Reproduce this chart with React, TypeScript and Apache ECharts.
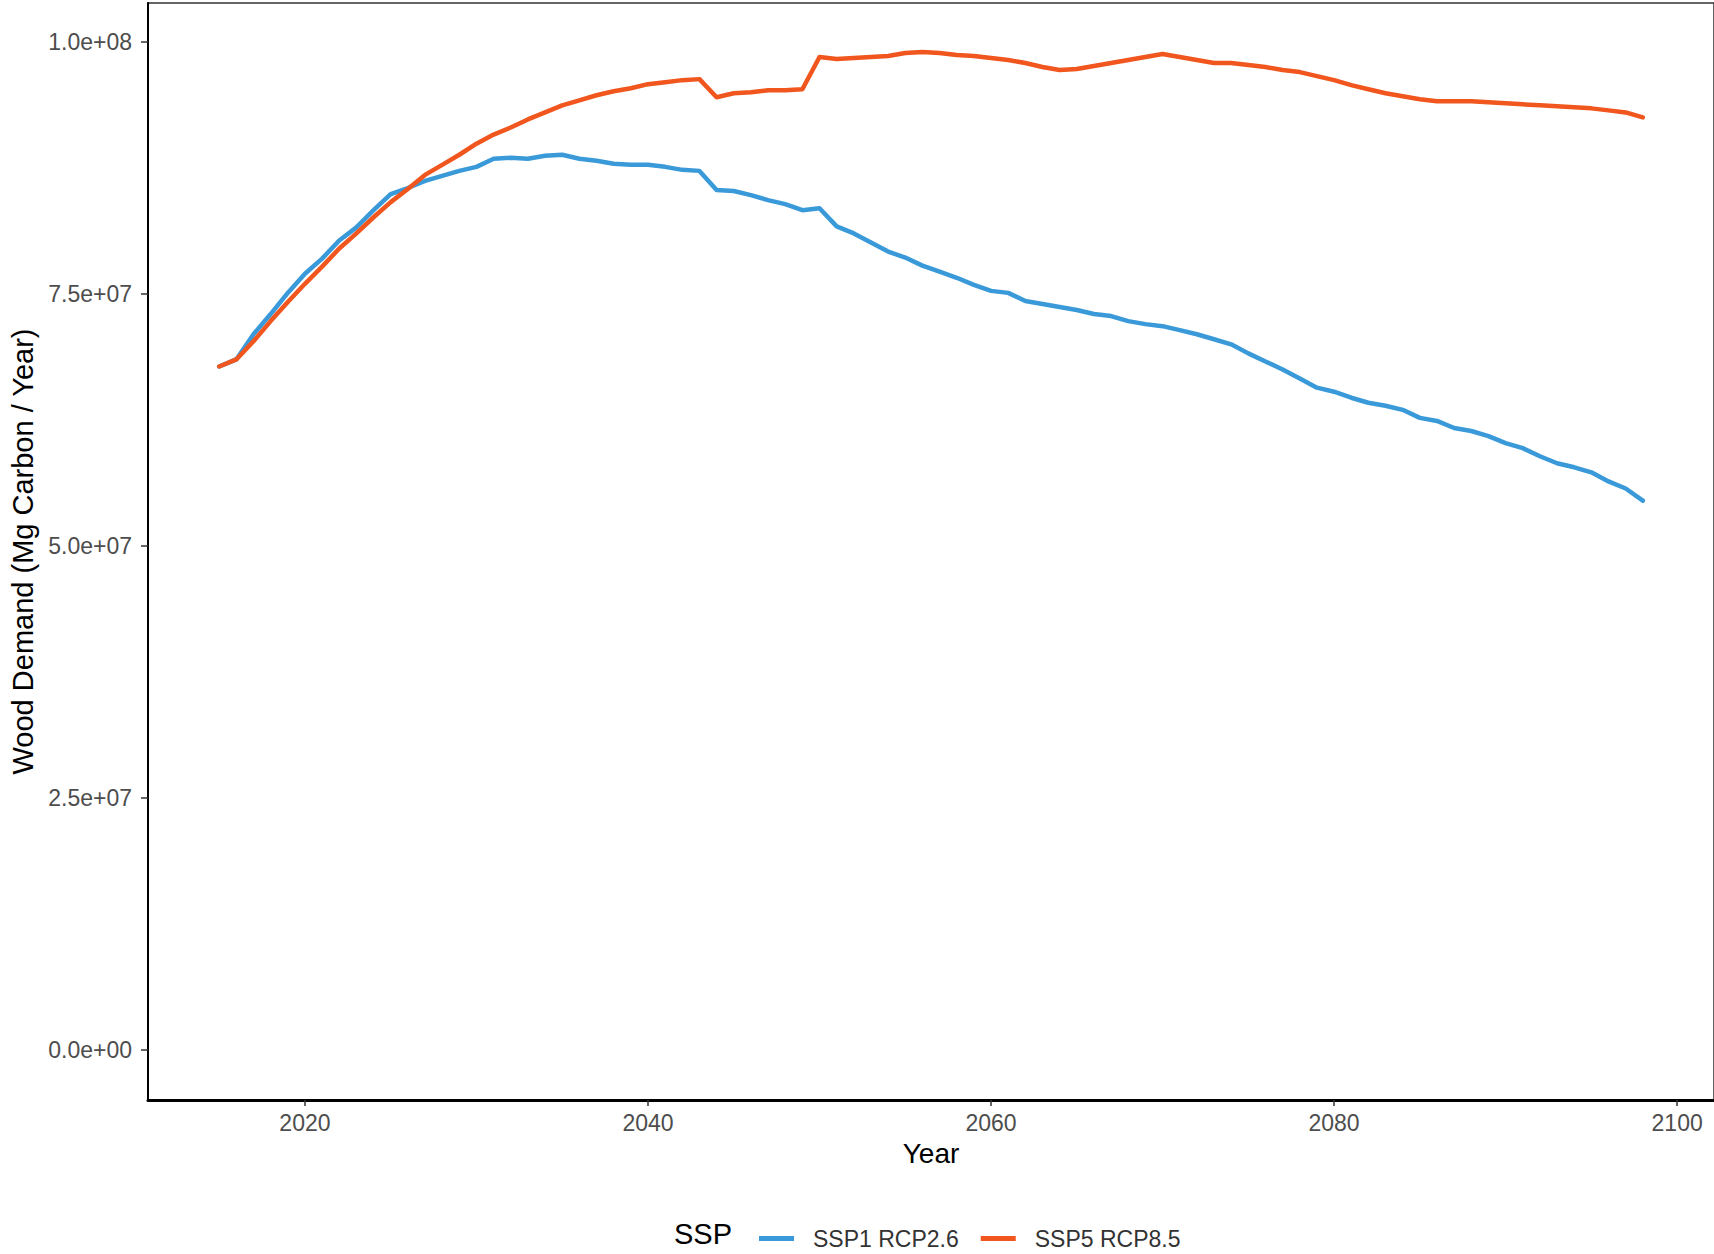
import React, { useEffect, useRef } from "react";
import * as echarts from "echarts";

// Projection years
const years = [
  2015, 2016, 2017, 2018, 2019, 2020, 2021, 2022, 2023, 2024,
  2025, 2026, 2027, 2028, 2029, 2030, 2031, 2032, 2033, 2034,
  2035, 2036, 2037, 2038, 2039, 2040, 2041, 2042, 2043, 2044,
  2045, 2046, 2047, 2048, 2049, 2050, 2051, 2052, 2053, 2054,
  2055, 2056, 2057, 2058, 2059, 2060, 2061, 2062, 2063, 2064,
  2065, 2066, 2067, 2068, 2069, 2070, 2071, 2072, 2073, 2074,
  2075, 2076, 2077, 2078, 2079, 2080, 2081, 2082, 2083, 2084,
  2085, 2086, 2087, 2088, 2089, 2090, 2091, 2092, 2093, 2094,
  2095, 2096, 2097, 2098,
];

// Wood demand, Mg carbon per year
const ssp1Rcp26 = [
  67.8e6, 68.5e6, 71.0e6, 73.0e6, 75.1e6, 77.0e6, 78.5e6, 80.3e6, 81.6e6, 83.3e6,
  84.9e6, 85.5e6, 86.2e6, 86.7e6, 87.2e6, 87.6e6, 88.4e6, 88.5e6, 88.4e6, 88.7e6,
  88.8e6, 88.4e6, 88.2e6, 87.9e6, 87.8e6, 87.8e6, 87.6e6, 87.3e6, 87.2e6, 85.3e6,
  85.2e6, 84.8e6, 84.3e6, 83.9e6, 83.3e6, 83.5e6, 81.7e6, 81.0e6, 80.1e6, 79.2e6,
  78.6e6, 77.8e6, 77.2e6, 76.6e6, 75.9e6, 75.3e6, 75.1e6, 74.3e6, 74.0e6, 73.7e6,
  73.4e6, 73.0e6, 72.8e6, 72.3e6, 72.0e6, 71.8e6, 71.4e6, 71.0e6, 70.5e6, 70.0e6,
  69.1e6, 68.3e6, 67.5e6, 66.6e6, 65.7e6, 65.3e6, 64.7e6, 64.2e6, 63.9e6, 63.5e6,
  62.7e6, 62.4e6, 61.7e6, 61.4e6, 60.9e6, 60.2e6, 59.7e6, 58.9e6, 58.2e6, 57.8e6,
  57.3e6, 56.4e6, 55.7e6, 54.5e6,
];

const ssp5Rcp85 = [
  67.8e6, 68.5e6, 70.3e6, 72.3e6, 74.2e6, 76.0e6, 77.7e6, 79.5e6, 81.0e6, 82.6e6,
  84.1e6, 85.4e6, 86.8e6, 87.8e6, 88.8e6, 89.9e6, 90.8e6, 91.5e6, 92.3e6, 93.0e6,
  93.7e6, 94.2e6, 94.7e6, 95.1e6, 95.4e6, 95.8e6, 96.0e6, 96.2e6, 96.3e6, 94.5e6,
  94.9e6, 95.0e6, 95.2e6, 95.2e6, 95.3e6, 98.5e6, 98.3e6, 98.4e6, 98.5e6, 98.6e6,
  98.9e6, 99.0e6, 98.9e6, 98.7e6, 98.6e6, 98.4e6, 98.2e6, 97.9e6, 97.5e6, 97.2e6,
  97.3e6, 97.6e6, 97.9e6, 98.2e6, 98.5e6, 98.8e6, 98.5e6, 98.2e6, 97.9e6, 97.9e6,
  97.7e6, 97.5e6, 97.2e6, 97.0e6, 96.6e6, 96.2e6, 95.7e6, 95.3e6, 94.9e6, 94.6e6,
  94.3e6, 94.1e6, 94.1e6, 94.1e6, 94.0e6, 93.9e6, 93.8e6, 93.7e6, 93.6e6, 93.5e6,
  93.4e6, 93.2e6, 93.0e6, 92.5e6,
];

const seriesNames = ["SSP1 RCP2.6", "SSP5 RCP8.5"];
const seriesColors = ["#3a9ad9", "#f0561d"];

const xTicks = [2020, 2040, 2060, 2080, 2100];
const yTicks = [0, 25e6, 50e6, 75e6, 100e6];

const FONT = "'Liberation Sans', Arial, sans-serif";

// Scientific notation with a two-digit exponent, e.g. 7.5e+07
function sci(v: number): string {
  if (v === 0) return "0.0e+00";
  const [mant, exp] = v.toExponential(1).split("e");
  const sign = exp[0] === "-" ? "-" : "+";
  const digits = exp.replace(/^[+-]/, "").padStart(2, "0");
  return `${mant}e${sign}${digits}`;
}

export default function App() {
  const ref = useRef<HTMLDivElement>(null);

  useEffect(() => {
    if (!ref.current) return;
    const chart = echarts.init(ref.current, undefined, { renderer: "svg" });

    const series = [ssp1Rcp26, ssp5Rcp85].map((vals, i) => ({
      name: seriesNames[i],
      type: "line",
      showSymbol: false,
      symbol: "none",
      color: seriesColors[i],
      lineStyle: { width: 4.5, color: seriesColors[i], cap: "round", join: "round" },
      data: years.map((y, j) => [y, vals[j]]),
      z: 3 + i,
    }));

    chart.setOption({
      animation: false,
      backgroundColor: "#ffffff",
      textStyle: { fontFamily: FONT },
      grid: {
        left: 148,
        top: 3,
        right: -3,
        bottom: 154,
        show: true,
        borderColor: "#333333",
        borderWidth: 1.5,
        containLabel: false,
      },
      xAxis: {
        type: "value",
        min: 2010.85,
        max: 2102.15,
        name: "Year",
        nameLocation: "middle",
        nameGap: 39,
        nameTextStyle: { fontSize: 28, color: "#000000", fontFamily: FONT },
        axisLine: { show: true, onZero: false, lineStyle: { color: "#000000", width: 3 } },
        axisTick: {
          show: true,
          length: 6,
          customValues: xTicks,
          lineStyle: { color: "#333333", width: 1.5 },
        },
        axisLabel: {
          customValues: xTicks,
          formatter: (v: number) => String(v),
          fontSize: 23,
          color: "#4d4d4d",
          margin: 11,
          fontFamily: FONT,
        },
        splitLine: { show: false },
      },
      yAxis: {
        type: "value",
        min: -4.95e6,
        max: 103.85e6,
        name: "Wood Demand (Mg Carbon / Year)",
        nameLocation: "middle",
        nameGap: 104,
        nameTextStyle: { fontSize: 29, color: "#000000", fontFamily: FONT },
        axisLine: { show: true, onZero: false, lineStyle: { color: "#000000", width: 2 } },
        axisTick: {
          show: true,
          length: 7,
          customValues: yTicks,
          lineStyle: { color: "#333333", width: 1.5 },
        },
        axisLabel: {
          customValues: yTicks,
          formatter: (v: number) => sci(v),
          fontSize: 23,
          color: "#4d4d4d",
          margin: 16,
          fontFamily: FONT,
        },
        splitLine: { show: false },
      },
      legend: {
        data: seriesNames.map((n, i) => ({
          name: n,
          icon: "rect",
          itemStyle: { color: seriesColors[i] },
        })),
        left: 754,
        top: 1222,
        orient: "horizontal",
        itemWidth: 35,
        itemHeight: 5,
        itemGap: 22,
        selectedMode: false,
        textStyle: {
          fontSize: 23,
          color: "#333333",
          fontFamily: FONT,
          padding: [0, 0, 0, 14],
        },
      },
      graphic: [
        {
          type: "text",
          left: 674,
          top: 1219,
          style: {
            text: "SSP",
            fontSize: 29,
            fill: "#000000",
            fontFamily: FONT,
          },
        },
      ],
      series,
    });

    return () => chart.dispose();
  }, []);

  return (
    <div
      ref={ref}
      style={{ position: "absolute", left: 0, top: 0, width: 1714, height: 1254 }}
    />
  );
}
